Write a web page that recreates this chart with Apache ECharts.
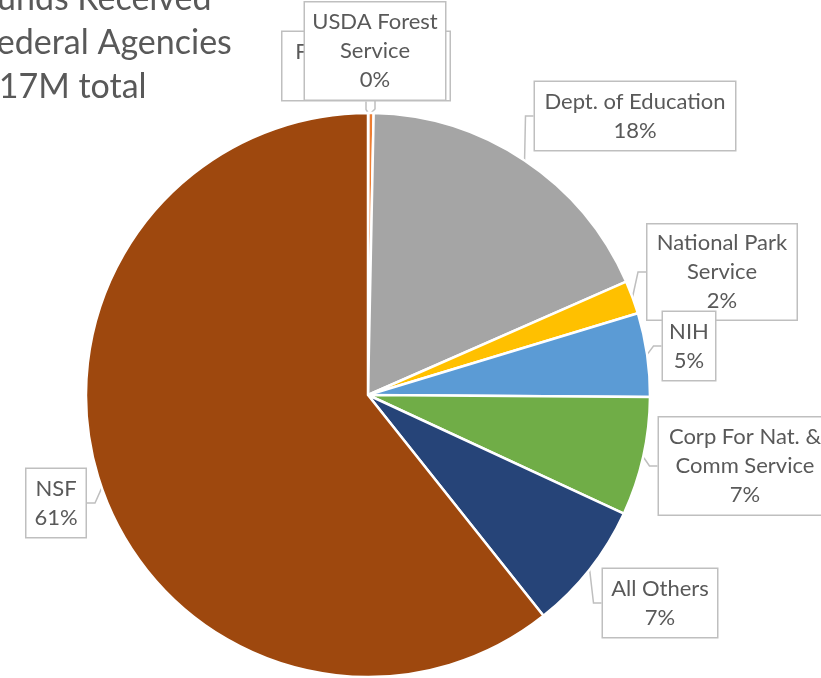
<!DOCTYPE html>
<html>
<head>
<meta charset="utf-8">
<title>Funds Received from Federal Agencies</title>
<script src="https://cdn.jsdelivr.net/npm/echarts@6/dist/echarts.min.js"></script>
<style>
    html, body { margin: 0; padding: 0; background: #fff; }
    #chart { width: 821px; height: 678px; }
</style>
</head>
<body>
<div id="chart"></div>
<script>
// agencies, clockwise from 12 o'clock
const agencies = [
    'Fish & Wildlife',
    'USDA Forest\nService',
    'Dept. of Education',
    'National Park\nService',
    'NIH',
    'Corp For Nat. &\nComm Service',
    'All Others',
    'NSF'
];
// share of the $17M total, in percent
const shares = [0.02, 0.3, 18.1, 1.9, 4.8, 6.8, 7.4, 60.7];
const colors = ['#5B9BD5', '#ED7D31', '#A5A5A5', '#FFC000', '#5B9BD5', '#70AD47', '#264478', '#9E480E'];

// callout boxes: centre x, centre y, width, vertical padding
const callouts = [
    [366, 66, 167, 5],
    [375, 51, 140, 5],
    [635, 116, 200, 5],
    [722, 272, 149, 4],
    [689, 346, 52, 5],
    [745, 466, 172, 5],
    [660, 603, 114, 5],
    [56, 503, 59, 5]
];

const FONT = 'Lato';
const textColor = '#595959';

let chart = null;

function buildData() {
    return agencies.map((name, i) => ({
        name: name,
        value: shares[i],
        itemStyle: { color: colors[i] },
        label: {
            width: callouts[i][2],
            padding: [callouts[i][3], 0, callouts[i][3], 0]
        }
    }));
}

function showPie() {
    chart = echarts.init(document.getElementById('chart'));
    chart.setOption({
        animation: false,
        title: {
            text: 'Funds Received\nFederal Agencies\n$17M total',
            left: -26,
            top: -28,
            textStyle: {
                fontFamily: FONT,
                fontSize: 34,
                fontWeight: 'normal',
                color: textColor,
                lineHeight: 44
            }
        },
        series: [{
            type: 'pie',
            center: [368, 395],
            radius: 282,
            startAngle: 90,
            clockwise: true,
            avoidLabelOverlap: false,
            itemStyle: {
                borderColor: '#fff',
                borderWidth: 2.5
            },
            label: {
                show: true,
                position: 'outside',
                formatter: p => p.name + '\n' + Math.round(p.percent) + '%',
                fontFamily: FONT,
                fontSize: 22,
                lineHeight: 29,
                color: textColor,
                align: 'center',
                overflow: 'none',
                backgroundColor: '#fff',
                borderColor: '#BFBFBF',
                borderWidth: 1.5
            },
            labelLine: {
                show: true,
                length: 10,
                length2: 8,
                lineStyle: { color: '#BFBFBF', width: 1.5 }
            },
            labelLayout: params => {
                const c = callouts[params.dataIndex];
                return { x: c[0], y: c[1], align: 'center', verticalAlign: 'middle' };
            },
            data: buildData()
        }]
    });
}

showPie();
</script>
</body>
</html>
